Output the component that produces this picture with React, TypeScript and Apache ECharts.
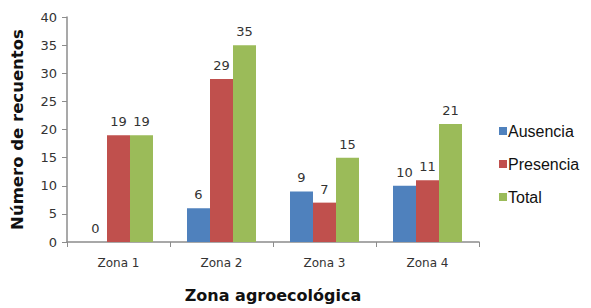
import React, { useEffect, useRef } from "react";
import * as echarts from "echarts";

const categories = ["Zona 1", "Zona 2", "Zona 3", "Zona 4"];
const ausencia = [0, 6, 9, 10];
const presencia = [19, 29, 7, 11];
const total = [19, 35, 15, 21];
const seriesNames = ["Ausencia", "Presencia", "Total"];
const colors = ["#4F81BD", "#C0504D", "#9BBB59"];

export default function App() {
  const ref = useRef<HTMLDivElement>(null);
  useEffect(() => {
    const chart = echarts.init(ref.current!, null, { renderer: "svg" });
    const labelStyle = {
      show: true,
      position: "top" as const,
      distance: 7,
      fontFamily: "DejaVu Sans",
      fontSize: 13,
      color: "#333",
    };
    const datasets = [ausencia, presencia, total];
    chart.setOption({
      animation: false,
      backgroundColor: "#fff",
      grid: { left: 67, top: 17, right: 112, bottom: 63 },
      legend: {
        orient: "vertical",
        left: 494,
        top: 118,
        itemWidth: 8,
        itemHeight: 8,
        itemGap: 17,
        icon: "rect",
        textStyle: { fontFamily: "Liberation Sans", fontSize: 16, color: "#111", padding: [0, 0, 0, -4] },
        data: seriesNames,
      },
      xAxis: {
        type: "category",
        data: categories,
        axisLine: { lineStyle: { color: "#8c8c8c", width: 1.5 } },
        axisTick: { show: true, length: 5, lineStyle: { color: "#8c8c8c" } },
        axisLabel: { fontFamily: "DejaVu Sans", fontSize: 12, color: "#333", margin: 15 },
        name: "Zona agroecológica",
        nameLocation: "middle",
        nameGap: 45,
        nameTextStyle: { fontFamily: "DejaVu Sans", fontWeight: "bold", fontSize: 16, color: "#111" },
      },
      yAxis: {
        type: "value",
        min: 0,
        max: 40,
        interval: 5,
        splitLine: { show: false },
        axisLine: { show: true, lineStyle: { color: "#8c8c8c", width: 1.5 } },
        axisTick: { show: true, length: 5, lineStyle: { color: "#8c8c8c" } },
        axisLabel: { fontFamily: "DejaVu Sans", fontSize: 13, color: "#333", margin: 10 },
        name: "Número de recuentos",
        nameLocation: "middle",
        nameGap: 41,
        nameTextStyle: { fontFamily: "DejaVu Sans", fontWeight: "bold", fontSize: 16.5, color: "#111" },
      },
      series: seriesNames.map((name, i) => ({
        name,
        type: "bar",
        data: datasets[i],
        barWidth: 23,
        barGap: "0%",
        itemStyle: { color: colors[i] },
        label: labelStyle,
      })),
    });
    return () => chart.dispose();
  }, []);
  return <div ref={ref} style={{ width: 591, height: 308, position: "absolute", left: 0, top: 0 }} />;
}
